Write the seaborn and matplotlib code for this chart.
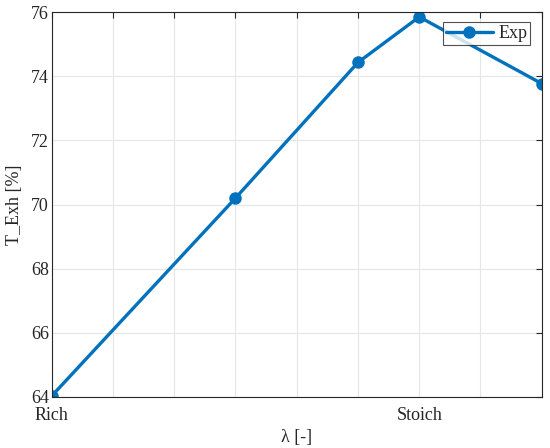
import pandas as pd
import seaborn as sns
import matplotlib.pyplot as plt

# dados
lam_pos = [0, 3, 5, 6, 8]
t_exh = [64.03, 70.2, 74.43, 75.85, 73.77]
xtick_labels = ['Rich', '', '', '', '', '', 'Stoich', '', '']
ytick_vals = [64, 66, 68, 70, 72, 74, 76]

df = pd.DataFrame({'lam': lam_pos, 'T_Exh': t_exh})

sns.set_style('whitegrid')
plt.rcParams['font.family'] = ['Liberation Serif', 'DejaVu Serif']

fig = plt.figure(figsize=(5.5, 4.48), dpi=100)
ax = fig.add_axes([0.094, 0.114, 0.891, 0.859])

sns.lineplot(data=df, x='lam', y='T_Exh', ax=ax, color='#0072BD',
             linewidth=2.4, marker='o', markersize=9, markeredgewidth=0,
             label='Exp')

ax.set_xlim(0, 8)
ax.set_ylim(64, 76)
ax.set_xticks(range(len(xtick_labels)))
ax.set_xticklabels(xtick_labels)
ax.set_yticks(ytick_vals)
ax.grid(True, color='#e6e6e6', linewidth=0.8)
for s in ax.spines.values():
    s.set_color('#262626')
    s.set_linewidth(0.8)
ax.tick_params(direction='in', length=4, width=0.8, colors='#262626',
               top=True, right=True, labelsize=13)
ax.tick_params(axis='x', pad=7)
ax.tick_params(axis='y', pad=2)
ax.set_xlabel('λ [-]', fontsize=13, color='#262626', labelpad=4)
ax.set_ylabel('T_Exh [%]', fontsize=13, color='#262626', labelpad=6)

leg = ax.legend(loc='upper right', bbox_to_anchor=(0.976, 0.973), fontsize=13,
                frameon=True, fancybox=False, handlelength=2.6,
                borderpad=0.15, handletextpad=0.3, borderaxespad=0)
leg.get_frame().set_edgecolor('#262626')
leg.get_frame().set_linewidth(0.8)

fig.savefig('out.png', dpi=100)
